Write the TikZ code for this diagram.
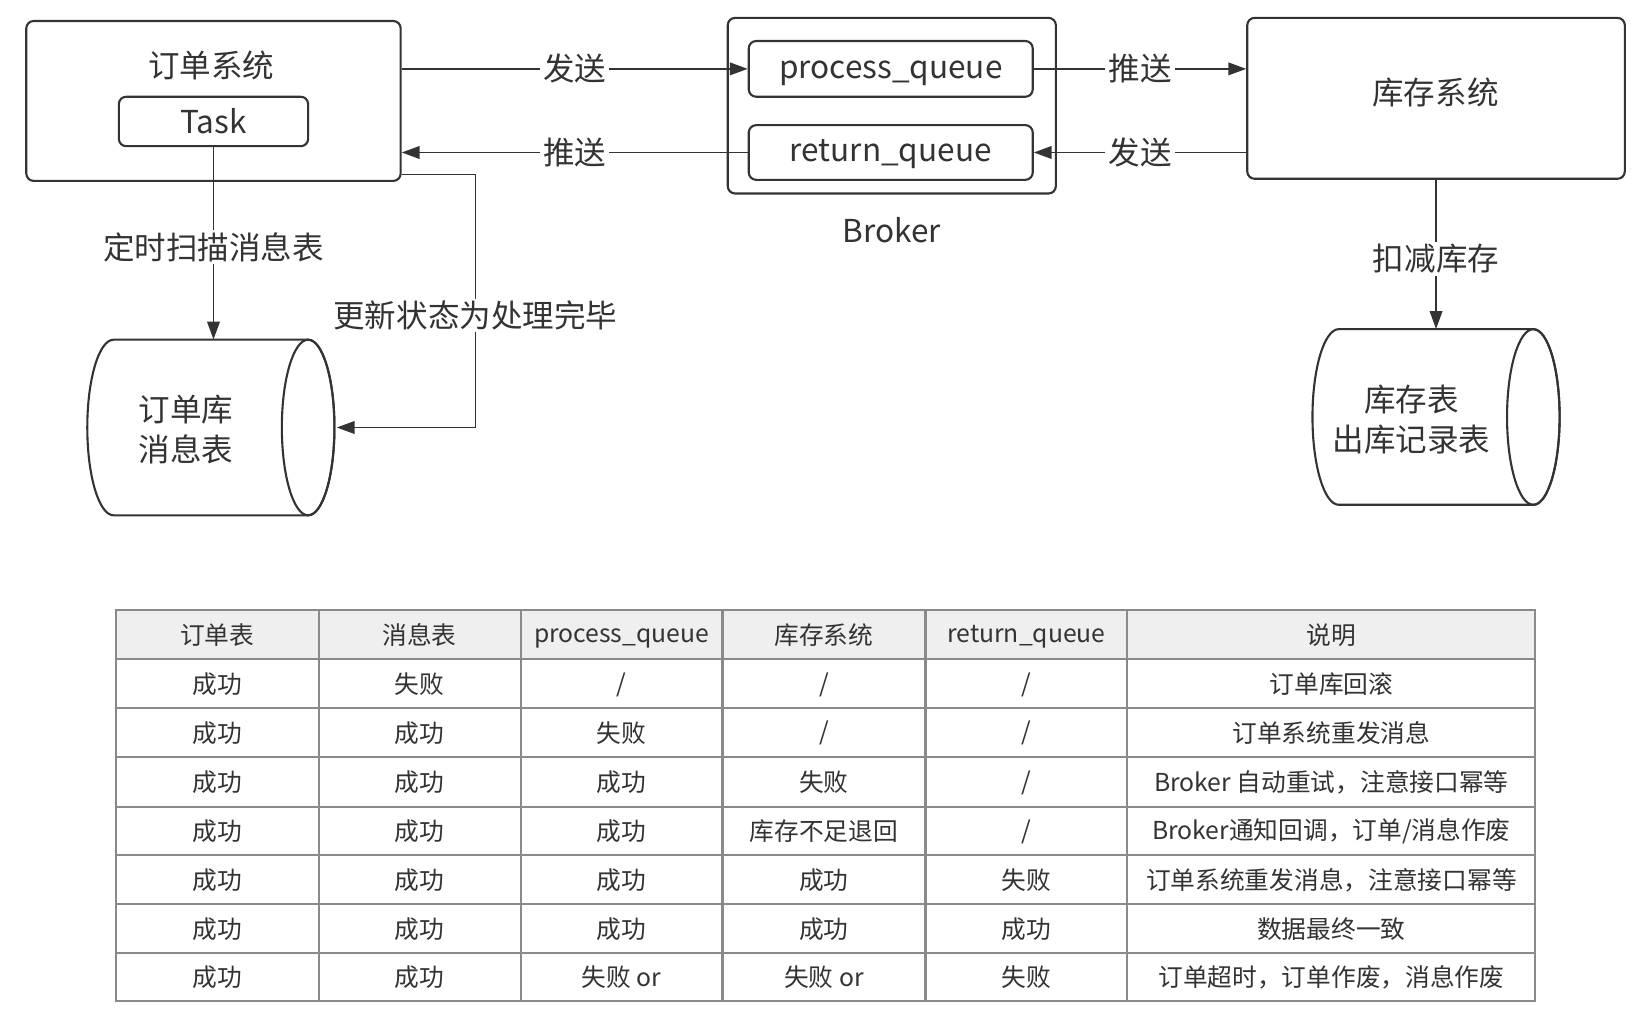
\documentclass[tikz,border=0pt]{standalone}
\usepackage{fontspec}
\setmainfont{Noto Sans CJK SC}
\usetikzlibrary{arrows.meta}
\definecolor{ink}{HTML}{333333}
\definecolor{gridc}{HTML}{8A8A8A}
\definecolor{headfill}{HTML}{EFEFEF}
\newcommand\cjkstrut{\vphantom{订}}
\tikzset{
  box/.style={draw=ink, line width=2pt, rounded corners=7pt, fill=white, inner sep=0pt},
  lbl/.style={font=\fontsize{30}{38}\selectfont, text=ink, inner sep=0pt},
  edgelbl/.style={lbl, fill=white, inner xsep=3pt, inner ysep=2pt},
  conn/.style={draw=ink, line width=1.6pt, -{Triangle[length=17pt,width=12pt]}},
  cell/.style={font=\fontsize{23.5}{28}\selectfont, text=ink, inner sep=0pt},
  gridline/.style={draw=gridc, line width=2pt},
  dbcyl/.pic={
    \path[fill=white, draw=ink, line width=2pt]
      (-92.5,-83.5) -- (92.5,-83.5)
      .. controls (106.3,-83.5) and (117.5,-46.1) .. (117.5,0)
      .. controls (117.5,46.1) and (106.3,83.5) .. (92.5,83.5)
      -- (-92.5,83.5)
      .. controls (-106.3,83.5) and (-117.5,46.1) .. (-117.5,0)
      .. controls (-117.5,-46.1) and (-106.3,-83.5) .. (-92.5,-83.5) -- cycle;
    \draw[ink, line width=2pt] (92.5,0) ellipse [x radius=25pt, y radius=83.5pt];
  }
}
\newcommand\tablerow[8]{%
  \node[cell] (#1a) at (206.5,#2) {\cjkstrut #3};
  \node[cell] (#1b) at (399,#2) {\cjkstrut #4};
  \node[cell] (#1c) at (591,#2) {\cjkstrut #5};
  \node[cell] (#1d) at (783.5,#2) {\cjkstrut #6};
  \node[cell] (#1e) at (976,#2) {\cjkstrut #7};
  \node[cell] (#1f) at (1266,#2) {\cjkstrut #8};
}
\begin{document}
\begin{tikzpicture}[x=1pt, y=-1pt]
\useasboundingbox[fill=white] (0,0) rectangle (1568,976);

% order system
\node[box, minimum width=356pt, minimum height=152pt] (order) at (203,96) {};
\node[lbl] (ordertitle) at (201,62) {订单系统};
\node[box, minimum width=180pt, minimum height=47pt] (task) at (203,115.5) {\fontsize{30}{36}\selectfont\color{ink}\cjkstrut Task};

% broker
\node[box, minimum width=312pt, minimum height=167pt] (broker) at (848,100.5) {};
\node[box, minimum width=270pt, minimum height=53pt] (process) at (847,65.5) {\fontsize{30}{36}\selectfont\color{ink}\cjkstrut process\_queue};
\node[box, minimum width=270pt, minimum height=52pt] (ret) at (847,145) {\fontsize{30}{36}\selectfont\color{ink}\cjkstrut return\_queue};
\node[lbl] (brokerlbl) at (848,219) {\cjkstrut Broker};

% stock system
\node[box, minimum width=359pt, minimum height=153pt] (stock) at (1365.5,93.5) {};
\node[lbl] (stocktitle) at (1365,88) {库存系统};

% databases
\pic at (200.5,406.5) {dbcyl};
\node[minimum width=235pt, minimum height=167pt, inner sep=0pt] (db1) at (200.5,406.5) {};
\node[lbl, align=center] (db1txt) at (177,408) {订单库\\消息表};

\pic at (1365.5,396.5) {dbcyl};
\node[minimum width=235pt, minimum height=167pt, inner sep=0pt] (db2) at (1365.5,396.5) {};
\node[lbl, align=center] (db2txt) at (1342,399) {库存表\\出库记录表};

% connectors
\draw[conn] (order.east |- process.west) -- node[edgelbl] (l1) {发送} (process.west);
\draw[conn] (ret.west) -- node[edgelbl] (l2) {推送} (order.east |- ret.west);
\draw[conn] (process.east) -- node[edgelbl] (l3) {推送} (process.east -| stock.west);
\draw[conn] (stock.west |- ret.east) -- node[edgelbl] (l4) {发送} (ret.east);
\draw[conn] (task.south) -- node[edgelbl, pos=0.52] (l5) {定时扫描消息表} (task.south |- db1.north);
\draw[conn] ([yshift=7pt]order.south east) -- ++(70,0) |- node[edgelbl, pos=0.279] (l6) {更新状态为处理完毕} ([xshift=2pt]db1.east);
\draw[conn] (stock.south) -- node[edgelbl, pos=0.53] (l7) {扣减库存} (stock.south |- db2.north);

% table
\fill[headfill] (110,580) rectangle (1460,627);
\foreach \yy in {580,627,673.5,720,767,813,860,906,952}
  \draw[gridline] (109,\yy) -- (1461,\yy);
\foreach \xx in {110,303,495,687,880,1072,1460}
  \draw[gridline] (\xx,580) -- (\xx,952);

\tablerow{h}{604}{订单表}{消息表}{process\_queue}{库存系统}{return\_queue}{说明}
\tablerow{ra}{650.5}{成功}{失败}{/}{/}{/}{订单库回滚}
\tablerow{rb}{697}{成功}{成功}{失败}{/}{/}{订单系统重发消息}
\tablerow{rc}{744}{成功}{成功}{成功}{失败}{/}{Broker 自动重试，注意接口幂等}
\tablerow{rd}{790.5}{成功}{成功}{成功}{库存不足退回}{/}{Broker通知回调，订单/消息作废}
\tablerow{re}{837}{成功}{成功}{成功}{成功}{失败}{订单系统重发消息，注意接口幂等}
\tablerow{rf}{883.5}{成功}{成功}{成功}{成功}{成功}{数据最终一致}
\tablerow{rg}{929.5}{成功}{成功}{失败 or}{失败 or}{失败}{订单超时，订单作废，消息作废}
\end{tikzpicture}
\end{document}
